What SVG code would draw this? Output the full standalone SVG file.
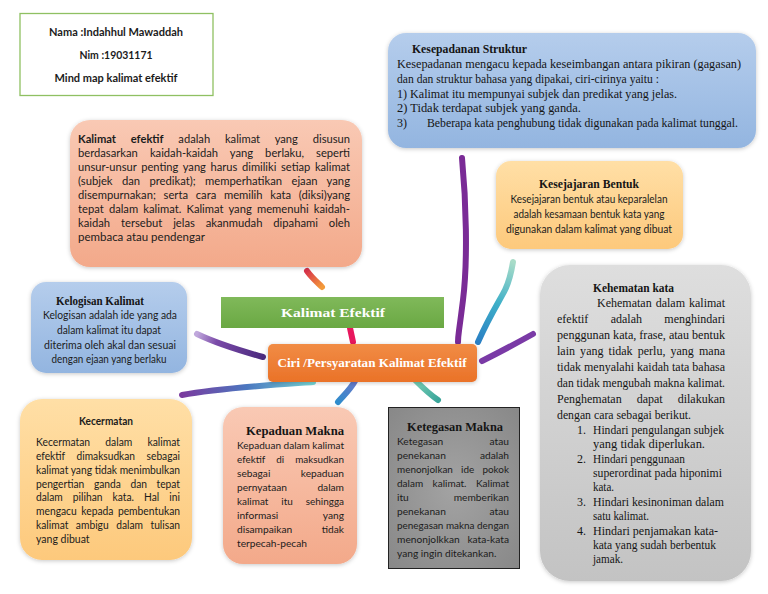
<svg xmlns="http://www.w3.org/2000/svg" width="768" height="594" viewBox="0 0 768 594">
<style>
.sans{font-family:Lato,"Open Sans","Liberation Sans",sans-serif;font-size:11.5px;fill:#1c1c1c}
.s10{font-size:10.5px}
.s102{font-size:10.2px}
.serif{font-family:"Liberation Serif","DejaVu Serif",serif;font-size:12px;fill:#151515}
.b{font-weight:bold}
.c{text-anchor:middle}
.e{text-anchor:end}
.conn{fill:none;stroke-linecap:round;stroke-width:6}
</style>
<defs>
<filter id="sh" x="-10%" y="-10%" width="120%" height="120%"><feDropShadow dx="0" dy="1" stdDeviation="2" flood-color="#000" flood-opacity="0.22"/></filter>
<linearGradient id="gBlue" x1="0" y1="0" x2="0" y2="1"><stop offset="0" stop-color="#b5cdec"/><stop offset="1" stop-color="#93b5e0"/></linearGradient>
<linearGradient id="gSalmon" x1="0" y1="0" x2="0" y2="1"><stop offset="0" stop-color="#f9c9b4"/><stop offset="1" stop-color="#f3a98a"/></linearGradient>
<linearGradient id="gYellow" x1="0" y1="0" x2="0" y2="1"><stop offset="0" stop-color="#ffdfa6"/><stop offset="1" stop-color="#fdc97c"/></linearGradient>
<linearGradient id="gGray" x1="0" y1="0" x2="0" y2="1"><stop offset="0" stop-color="#dedede"/><stop offset="1" stop-color="#c3c3c3"/></linearGradient>
<radialGradient id="gDark" cx="0.5" cy="0.5" r="0.7"><stop offset="0" stop-color="#a3a3a3"/><stop offset="1" stop-color="#888888"/></radialGradient>
<linearGradient id="gGreen" x1="0" y1="0" x2="0" y2="1"><stop offset="0" stop-color="#80b95a"/><stop offset="1" stop-color="#6aa843"/></linearGradient>
<linearGradient id="gOrange" x1="0" y1="0" x2="0" y2="1"><stop offset="0" stop-color="#f18c45"/><stop offset="1" stop-color="#ea7228"/></linearGradient>
<linearGradient id="cRed" gradientUnits="userSpaceOnUse" x1="307" y1="271" x2="322" y2="287"><stop offset="0" stop-color="#d8344a"/><stop offset="1" stop-color="#f39a3a"/></linearGradient>
<linearGradient id="cLeftP" gradientUnits="userSpaceOnUse" x1="197" y1="334" x2="263" y2="357"><stop offset="0" stop-color="#c0a8dc"/><stop offset="0.3" stop-color="#7a4aa8"/><stop offset="1" stop-color="#4b2a7e"/></linearGradient>
<linearGradient id="cBotL" gradientUnits="userSpaceOnUse" x1="182" y1="395" x2="313" y2="382"><stop offset="0" stop-color="#7a3a9e"/><stop offset="0.5" stop-color="#4b78c0"/><stop offset="1" stop-color="#78d6d6"/></linearGradient>
<linearGradient id="cBlue" gradientUnits="userSpaceOnUse" x1="355" y1="381" x2="338" y2="402"><stop offset="0" stop-color="#6a78c8"/><stop offset="1" stop-color="#2f8ccc"/></linearGradient>
<linearGradient id="cTealD" gradientUnits="userSpaceOnUse" x1="415" y1="380" x2="438" y2="400"><stop offset="0" stop-color="#7ad0b6"/><stop offset="1" stop-color="#3aa59a"/></linearGradient>
<linearGradient id="cTeal" gradientUnits="userSpaceOnUse" x1="478" y1="342" x2="513" y2="262"><stop offset="0" stop-color="#2a7fc4"/><stop offset="0.5" stop-color="#3fb0c8"/><stop offset="1" stop-color="#a9dcc8"/></linearGradient>
</defs>
<rect width="768" height="594" fill="#ffffff"/>

<g id="connectors">
<path class="conn" d="M307,271 C312,278 318,283 322,287" stroke="url(#cRed)"/>
<path class="conn" d="M350,328 L353,342" stroke="#e8175d" stroke-width="7"/>
<path class="conn" d="M197,334 C220,345 245,352 263,357" stroke="url(#cLeftP)"/>
<path class="conn" d="M182,395 C220,388 270,385 313,382" stroke="url(#cBotL)"/>
<path class="conn" d="M355,381 C350,390 343,396 338,402" stroke="url(#cBlue)"/>
<path class="conn" d="M415,380 C425,390 432,396 438,400" stroke="url(#cTealD)"/>
<path class="conn" d="M462,158 C466,200 468,260 463,300 S458,335 458,342" stroke="#7a2b96"/>
<path class="conn" d="M478,342 C490,315 500,300 505,290 S512,268 513,262" stroke="url(#cTeal)"/>
<path class="conn" d="M482,361 C500,352 515,344 533,334" stroke="#7a3aa6"/>
</g>

<g id="info">
<rect x="20" y="13.5" width="193" height="82" fill="#ffffff" stroke="#8fc062" stroke-width="1.3"/>
<text class="sans b c" x="116" y="36" textLength="134" lengthAdjust="spacingAndGlyphs">Nama :Indahhul Mawaddah</text>
<text class="sans b c" x="116" y="59" textLength="73" lengthAdjust="spacingAndGlyphs">Nim :19031171</text>
<text class="sans b c" x="116" y="82" textLength="123" lengthAdjust="spacingAndGlyphs">Mind map kalimat efektif</text>
</g>

<g id="kesepadanan">
<rect x="388" y="33" width="368" height="115" rx="18" fill="url(#gBlue)" filter="url(#sh)"/>
<text class="serif b" x="412" y="53" textLength="115" lengthAdjust="spacingAndGlyphs">Kesepadanan Struktur</text>
<text class="serif" x="397" y="68" textLength="344" lengthAdjust="spacingAndGlyphs">Kesepadanan mengacu kepada keseimbangan antara pikiran (gagasan)</text>
<text class="serif" x="397" y="83" textLength="262" lengthAdjust="spacingAndGlyphs">dan dan struktur bahasa yang dipakai, ciri-cirinya yaitu :</text>
<text class="serif" x="397" y="98" textLength="280" lengthAdjust="spacingAndGlyphs">1) Kalimat itu mempunyai subjek dan predikat yang jelas.</text>
<text class="serif" x="397" y="112" textLength="184" lengthAdjust="spacingAndGlyphs">2) Tidak terdapat subjek yang ganda.</text>
<text class="serif" x="397" y="127">3)</text>
<text class="serif" x="427" y="127" textLength="311" lengthAdjust="spacingAndGlyphs">Beberapa kata penghubung tidak digunakan pada kalimat tunggal.</text>
</g>

<g id="definisi">
<rect x="70" y="120" width="292" height="147" rx="20" fill="url(#gSalmon)" filter="url(#sh)"/>
<text class="sans" x="78" y="143" word-spacing="12.3" textLength="272" lengthAdjust="spacingAndGlyphs"><tspan class="b">Kalimat efektif</tspan> adalah kalimat yang disusun</text>
<text class="sans" x="78" y="157" word-spacing="9.4" textLength="272" lengthAdjust="spacingAndGlyphs">berdasarkan kaidah-kaidah yang berlaku, seperti</text>
<text class="sans" x="78" y="171" word-spacing="1.9" textLength="272" lengthAdjust="spacingAndGlyphs">unsur-unsur penting yang harus dimiliki setiap kalimat</text>
<text class="sans" x="78" y="185" word-spacing="6.6" textLength="272" lengthAdjust="spacingAndGlyphs">(subjek dan predikat); memperhatikan ejaan yang</text>
<text class="sans" x="78" y="199" word-spacing="5" textLength="272" lengthAdjust="spacingAndGlyphs">disempurnakan; serta cara memilih kata (diksi)yang</text>
<text class="sans" x="78" y="213" word-spacing="2.4" textLength="272" lengthAdjust="spacingAndGlyphs">tepat dalam kalimat. Kalimat yang memenuhi kaidah-</text>
<text class="sans" x="78" y="227" word-spacing="8.2" textLength="272" lengthAdjust="spacingAndGlyphs">kaidah tersebut jelas akanmudah dipahami oleh</text>
<text class="sans" x="78" y="241">pembaca atau pendengar</text>
</g>

<g id="kesejajaran">
<rect x="496" y="161" width="187" height="88" rx="15" fill="url(#gYellow)" filter="url(#sh)"/>
<text class="serif b c" x="589" y="188" textLength="100" lengthAdjust="spacingAndGlyphs">Kesejajaran Bentuk</text>
<text class="sans s10 c" x="589" y="203" textLength="157" lengthAdjust="spacingAndGlyphs">Kesejajaran bentuk atau keparalelan</text>
<text class="sans s10 c" x="589" y="218" textLength="151" lengthAdjust="spacingAndGlyphs">adalah kesamaan bentuk kata yang</text>
<text class="sans s10 c" x="589" y="233" textLength="166" lengthAdjust="spacingAndGlyphs">digunakan dalam kalimat yang dibuat</text>
</g>

<g id="kalimat-efektif">
<rect x="221" y="297" width="223" height="31" fill="url(#gGreen)"/>
<text class="serif b c" x="333" y="317" font-size="16" style="fill:#ffffff" textLength="104" lengthAdjust="spacingAndGlyphs">Kalimat Efektif</text>
</g>

<g id="ciri">
<rect x="268" y="344" width="209" height="38" rx="5" fill="url(#gOrange)" filter="url(#sh)"/>
<text class="serif b c" x="372" y="367" font-size="13" style="fill:#ffffff" textLength="189" lengthAdjust="spacingAndGlyphs">Ciri /Persyaratan Kalimat Efektif</text>
</g>

<g id="kelogisan">
<rect x="31" y="282" width="156" height="91" rx="15" fill="url(#gBlue)" filter="url(#sh)"/>
<text class="serif b c" x="100" y="305" textLength="88" lengthAdjust="spacingAndGlyphs">Kelogisan Kalimat</text>
<text class="sans s10 c" x="110" y="319" textLength="134" lengthAdjust="spacingAndGlyphs">Kelogisan adalah ide yang ada</text>
<text class="sans s10 c" x="109" y="334" textLength="104" lengthAdjust="spacingAndGlyphs">dalam kalimat itu dapat</text>
<text class="sans s10 c" x="110" y="349" textLength="132" lengthAdjust="spacingAndGlyphs">diterima oleh akal dan sesuai</text>
<text class="sans s10 c" x="109" y="363" textLength="115" lengthAdjust="spacingAndGlyphs">dengan ejaan yang berlaku</text>
</g>

<g id="kehematan">
<rect x="540" y="265" width="211" height="316" rx="30" fill="url(#gGray)" filter="url(#sh)"/>
<text class="serif b" x="593" y="292" textLength="81" lengthAdjust="spacingAndGlyphs">Kehematan kata</text>
<text class="serif" x="597" y="307" word-spacing="1" textLength="128" lengthAdjust="spacingAndGlyphs">Kehematan dalam kalimat</text>
<text class="serif" x="557" y="323" word-spacing="19.3" textLength="168" lengthAdjust="spacingAndGlyphs">efektif adalah menghindari</text>
<text class="serif" x="557" y="339" textLength="168" lengthAdjust="spacingAndGlyphs">penggunan kata, frase, atau bentuk</text>
<text class="serif" x="557" y="355" word-spacing="2.1" textLength="168" lengthAdjust="spacingAndGlyphs">lain yang tidak perlu, yang mana</text>
<text class="serif" x="557" y="371" textLength="168" lengthAdjust="spacingAndGlyphs">tidak menyalahi kaidah tata bahasa</text>
<text class="serif" x="557" y="387" textLength="168" lengthAdjust="spacingAndGlyphs">dan tidak mengubah makna kalimat.</text>
<text class="serif" x="557" y="403" word-spacing="12" textLength="168" lengthAdjust="spacingAndGlyphs">Penghematan dapat dilakukan</text>
<text class="serif" x="557" y="419" textLength="134" lengthAdjust="spacingAndGlyphs">dengan cara sebagai berikut.</text>
<text class="serif" x="577" y="434">1.</text>
<text class="serif" x="593" y="434" textLength="131" lengthAdjust="spacingAndGlyphs">Hindari pengulangan subjek</text>
<text class="serif" x="593" y="448" textLength="112" lengthAdjust="spacingAndGlyphs">yang tidak diperlukan.</text>
<text class="serif" x="577" y="463">2.</text>
<text class="serif" x="593" y="463" textLength="92" lengthAdjust="spacingAndGlyphs">Hindari penggunaan</text>
<text class="serif" x="593" y="477" textLength="129" lengthAdjust="spacingAndGlyphs">superordinat pada hiponimi</text>
<text class="serif" x="593" y="491" textLength="21" lengthAdjust="spacingAndGlyphs">kata.</text>
<text class="serif" x="577" y="506">3.</text>
<text class="serif" x="593" y="506" textLength="131" lengthAdjust="spacingAndGlyphs">Hindari kesinoniman dalam</text>
<text class="serif" x="593" y="520" textLength="56" lengthAdjust="spacingAndGlyphs">satu kalimat.</text>
<text class="serif" x="577" y="535">4.</text>
<text class="serif" x="593" y="535" textLength="125" lengthAdjust="spacingAndGlyphs">Hindari penjamakan kata-</text>
<text class="serif" x="593" y="549" textLength="123" lengthAdjust="spacingAndGlyphs">kata yang sudah berbentuk</text>
<text class="serif" x="593" y="563" textLength="30" lengthAdjust="spacingAndGlyphs">jamak.</text>
</g>

<g id="kecermatan">
<rect x="20" y="399" width="172" height="161" rx="22" fill="url(#gYellow)" filter="url(#sh)"/>
<text class="sans s10 b c" x="106" y="425" textLength="54" lengthAdjust="spacingAndGlyphs">Kecermatan</text>
<text class="sans s10" x="36" y="446" word-spacing="12.7" textLength="144" lengthAdjust="spacingAndGlyphs">Kecermatan dalam kalimat</text>
<text class="sans s10" x="36" y="460" word-spacing="9.2" textLength="144" lengthAdjust="spacingAndGlyphs">efektif dimaksudkan sebagai</text>
<text class="sans s10" x="36" y="474" textLength="144" lengthAdjust="spacingAndGlyphs">kalimat yang tidak menimbulkan</text>
<text class="sans s10" x="36" y="488" word-spacing="7.2" textLength="144" lengthAdjust="spacingAndGlyphs">pengertian ganda dan tepat</text>
<text class="sans s10" x="36" y="501" word-spacing="7.7" textLength="144" lengthAdjust="spacingAndGlyphs">dalam pilihan kata. Hal ini</text>
<text class="sans s10" x="36" y="515" word-spacing="1.9" textLength="144" lengthAdjust="spacingAndGlyphs">mengacu kepada pembentukan</text>
<text class="sans s10" x="36" y="529" word-spacing="5" textLength="144" lengthAdjust="spacingAndGlyphs">kalimat ambigu dalam tulisan</text>
<text class="sans s10" x="36" y="543">yang dibuat</text>
</g>

<g id="kepaduan">
<rect x="223" y="407" width="134" height="157" rx="20" fill="url(#gSalmon)" filter="url(#sh)"/>
<text class="serif b c" x="295" y="435" textLength="98" lengthAdjust="spacingAndGlyphs">Kepaduan Makna</text>
<text class="sans s102" x="237" y="449" textLength="107" lengthAdjust="spacingAndGlyphs">Kepaduan dalam kalimat</text>
<text class="sans s102" x="237" y="463" word-spacing="8.9" textLength="107" lengthAdjust="spacingAndGlyphs">efektif di maksudkan</text>
<text class="sans s102" x="237" y="477">sebagai</text><text class="sans s102 e" x="344" y="477">kepaduan</text>
<text class="sans s102" x="237" y="491">pernyataan</text><text class="sans s102 e" x="344" y="491">dalam</text>
<text class="sans s102" x="237" y="505" word-spacing="10.7" textLength="107" lengthAdjust="spacingAndGlyphs">kalimat itu sehingga</text>
<text class="sans s102" x="237" y="519">informasi</text><text class="sans s102 e" x="344" y="519">yang</text>
<text class="sans s102" x="237" y="533">disampaikan</text><text class="sans s102 e" x="344" y="533">tidak</text>
<text class="sans s102" x="237" y="547">terpecah-pecah</text>
</g>

<g id="ketegasan">
<rect x="388.5" y="407.5" width="131" height="161" fill="url(#gDark)" stroke="#222" stroke-width="1"/>
<text class="serif b c" x="455" y="431" textLength="96" lengthAdjust="spacingAndGlyphs">Ketegasan Makna</text>
<text class="sans s102" x="397" y="445">Ketegasan</text><text class="sans s102 e" x="509" y="445">atau</text>
<text class="sans s102" x="397" y="459">penekanan</text><text class="sans s102 e" x="509" y="459">adalah</text>
<text class="sans s102" x="397" y="473" word-spacing="5.8" textLength="112" lengthAdjust="spacingAndGlyphs">menonjolkan ide pokok</text>
<text class="sans s102" x="397" y="487" word-spacing="7.1" textLength="112" lengthAdjust="spacingAndGlyphs">dalam kalimat. Kalimat</text>
<text class="sans s102" x="397" y="501">itu</text><text class="sans s102 e" x="509" y="501">memberikan</text>
<text class="sans s102" x="397" y="515">penekanan</text><text class="sans s102 e" x="509" y="515">atau</text>
<text class="sans s102" x="397" y="529" textLength="112" lengthAdjust="spacingAndGlyphs">penegasan makna dengan</text>
<text class="sans s102" x="397" y="543">menonjolkkan</text><text class="sans s102 e" x="509" y="543">kata-kata</text>
<text class="sans s102" x="397" y="557">yang ingin ditekankan.</text>
</g>
</svg>
